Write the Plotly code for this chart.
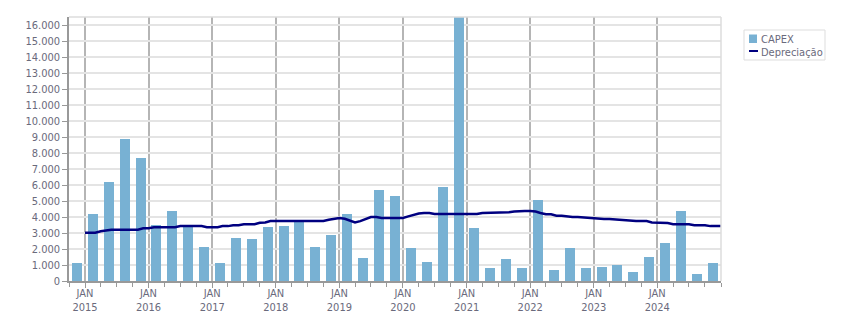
import pandas as pd
import plotly.graph_objects as go

# Quarterly CAPEX (bars), Q4 2014 .. Q4 2024
quarters = [
    "2014Q4",
    "2015Q1", "2015Q2", "2015Q3", "2015Q4",
    "2016Q1", "2016Q2", "2016Q3", "2016Q4",
    "2017Q1", "2017Q2", "2017Q3", "2017Q4",
    "2018Q1", "2018Q2", "2018Q3", "2018Q4",
    "2019Q1", "2019Q2", "2019Q3", "2019Q4",
    "2020Q1", "2020Q2", "2020Q3", "2020Q4",
    "2021Q1", "2021Q2", "2021Q3", "2021Q4",
    "2022Q1", "2022Q2", "2022Q3", "2022Q4",
    "2023Q1", "2023Q2", "2023Q3", "2023Q4",
    "2024Q1", "2024Q2", "2024Q3", "2024Q4",
]
capex = [
    1150,
    4200, 6200, 8850, 7700,
    3500, 4400, 3400, 2150,
    1100, 2700, 2600, 3400,
    3450, 3750, 2150, 2900,
    4200, 1450, 5700, 5300,
    2050, 1200, 5850, 16500,
    3300, 800, 1350, 800,
    5050, 700, 2050, 800,
    900, 1000, 550, 1500,
    2350, 4400, 450, 1150,
]

# Monthly depreciation (line), Jan 2015 .. Jan 2025
months = pd.date_range("2015-01-01", "2025-01-01", freq="MS")
depreciacao = [
    3020, 3020, 3020, 3110, 3170, 3210, 3210, 3210, 3210, 3210, 3210, 3300,
    3300, 3360, 3360, 3360, 3360, 3360, 3430, 3430, 3430, 3430, 3430, 3360,
    3360, 3360, 3430, 3430, 3490, 3490, 3550, 3550, 3550, 3640, 3660, 3745,
    3745, 3745, 3745, 3745, 3745, 3745, 3745, 3745, 3745, 3745, 3830, 3900,
    3940, 3890, 3780, 3660, 3740, 3860, 4000, 4000, 3940, 3940, 3940, 3940,
    3940, 4040, 4130, 4220, 4255, 4255, 4190, 4190, 4190, 4190, 4190, 4190,
    4190, 4190, 4190, 4255, 4255, 4255, 4300, 4300, 4300, 4340, 4380, 4380,
    4380, 4340, 4255, 4170, 4170, 4085, 4085, 4020, 4000, 4000, 3970, 3940,
    3940, 3900, 3870, 3870, 3840, 3810, 3810, 3780, 3745, 3745, 3745, 3660,
    3660, 3660, 3620, 3550, 3550, 3550, 3550, 3490, 3490, 3490, 3430, 3430,
    3430,
]

series_names = ["CAPEX", "Depreciação"]
year_ticks = [f"{y}-01-01" for y in range(2015, 2025)]
year_text = [f"JAN<br>{y}" for y in range(2015, 2025)]

# bar positions: middle of each quarter
periods = [pd.Period(q, freq="Q") for q in quarters]
bar_x = [p.start_time + (p.end_time - p.start_time) / 2 for p in periods]

FONT = "Tahoma, 'DejaVu Sans Condensed', Verdana, 'DejaVu Sans', sans-serif"
TXT = "#6a6a7c"
BAR_COLOR = "#78b1d3"
LINE_COLOR = "#000080"

# plot area in pixels (for the hand-drawn legend box)
L, R, T, B = 69, 721, 17, 281
W, H = R - L, B - T


def px(x):
    return (x - L) / W


def py(y):
    return (B - y) / H


fig = go.Figure()
fig.add_trace(go.Bar(
    x=bar_x, y=capex, name=series_names[0],
    marker=dict(color=BAR_COLOR, line=dict(width=0)),
    width=0.63 * 91.3 * 86400000,
))
fig.add_trace(go.Scatter(
    x=months, y=depreciacao, name=series_names[1], mode="lines",
    line=dict(color=LINE_COLOR, width=2.5),
))

fig.update_layout(
    width=851, height=313,
    margin=dict(l=L, r=851 - R, t=T, b=313 - B, autoexpand=False),
    paper_bgcolor="white", plot_bgcolor="white",
    separators=",.",
    font=dict(family=FONT, size=11, color=TXT),
    showlegend=False,
    bargap=0,
)
fig.update_xaxes(
    type="date",
    range=["2014-10-01", "2025-01-01"],
    tickmode="array", tickvals=year_ticks, ticktext=year_text,
    showgrid=True, gridcolor="#b5b5b5", gridwidth=1.5,
    ticks="outside", ticklen=5, tickcolor="#999999",
    showline=True, linecolor="#999999", linewidth=1.5,
    minor=dict(dtick="M3", tick0="2015-01-01", ticks="outside", ticklen=4,
               tickcolor="#999999", showgrid=False),
    zeroline=False,
    ticklabelstandoff=-4,
    tickfont=dict(size=11, color=TXT),
)
fig.update_yaxes(
    range=[0, 16500], dtick=1000, tickformat=",d",
    showgrid=True, gridcolor="#e4e4e4", gridwidth=1.5,
    ticks="outside", ticklen=5, tickcolor="#999999",
    showline=True, linecolor="#999999", linewidth=1.5,
    zeroline=False,
    tickfont=dict(size=11, color=TXT),
)
# light top/right border of the plot area
fig.add_shape(type="line", xref="paper", yref="paper", x0=1, x1=1, y0=0, y1=1,
              line=dict(color="#dddddd", width=1.5))
fig.add_shape(type="line", xref="paper", yref="paper", x0=0, x1=1, y0=1, y1=1,
              line=dict(color="#dddddd", width=1.5))

# legend (drawn as box + symbols + text)
fig.add_shape(type="rect", xref="paper", yref="paper",
              x0=px(744), x1=px(825), y0=py(60), y1=py(30),
              line=dict(color="#dddddd", width=1), fillcolor="white")
fig.add_shape(type="rect", xref="paper", yref="paper",
              x0=px(749), x1=px(757), y0=py(43), y1=py(34.5),
              line=dict(width=0), fillcolor=BAR_COLOR)
fig.add_shape(type="line", xref="paper", yref="paper",
              x0=px(749), x1=px(758), y0=py(51), y1=py(51),
              line=dict(color=LINE_COLOR, width=2))
for name, yc in zip(series_names, [39, 52]):
    fig.add_annotation(xref="paper", yref="paper", x=px(759), y=py(yc),
                       xanchor="left", yanchor="middle", showarrow=False,
                       text=name, font=dict(size=11, color=TXT))

fig.write_html("out.html")
